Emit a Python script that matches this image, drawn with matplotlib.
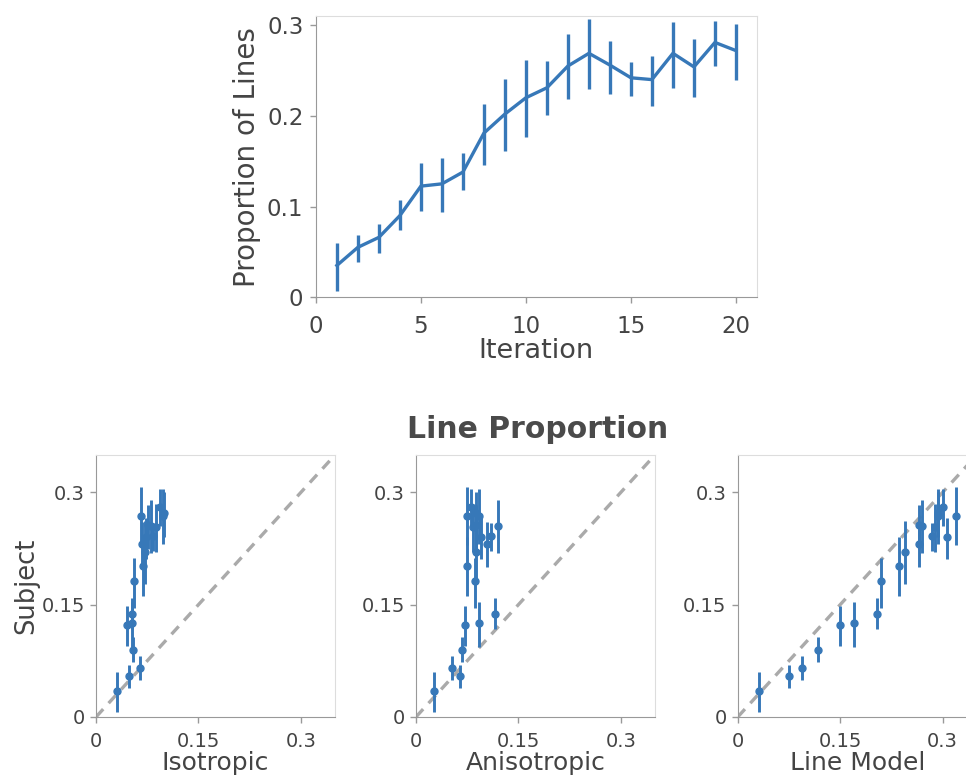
import matplotlib
matplotlib.use("Agg")
import matplotlib.pyplot as plt

# Data
iterations = list(range(1, 21))
subject_mean = [0.035, 0.055, 0.066, 0.090, 0.1225, 0.125, 0.138, 0.181, 0.202, 0.220,
                0.231, 0.255, 0.269, 0.256, 0.242, 0.240, 0.269, 0.254, 0.281, 0.272]
subject_hi = [0.060, 0.069, 0.081, 0.107, 0.148, 0.154, 0.159, 0.213, 0.241, 0.262,
              0.260, 0.290, 0.307, 0.283, 0.259, 0.266, 0.304, 0.285, 0.305, 0.301]
subject_lo = [0.007, 0.039, 0.049, 0.074, 0.095, 0.094, 0.118, 0.146, 0.161, 0.177,
              0.201, 0.219, 0.230, 0.224, 0.222, 0.211, 0.231, 0.221, 0.255, 0.240]

isotropic = [0.030, 0.049, 0.064, 0.054, 0.046, 0.053, 0.052, 0.056, 0.069, 0.072,
             0.067, 0.081, 0.066, 0.076, 0.083, 0.073, 0.098, 0.088, 0.094, 0.100]
anisotropic = [0.027, 0.065, 0.053, 0.068, 0.072, 0.093, 0.116, 0.086, 0.075, 0.088,
               0.104, 0.120, 0.075, 0.0875, 0.110, 0.095, 0.093, 0.083, 0.080, 0.0875]
line_model = [0.031, 0.0745, 0.094, 0.1175, 0.1495, 0.171, 0.204, 0.2095, 0.2355, 0.245,
              0.265, 0.2695, 0.319, 0.266, 0.284, 0.307, 0.293, 0.289, 0.300, 0.294]

model_names = ["Isotropic", "Anisotropic", "Line Model"]
model_values = [isotropic, anisotropic, line_model]

BLUE = "#3778b8"
TEXT = "#444444"

plt.rcParams["font.family"] = ["DejaVu Sans"]
plt.rcParams["text.color"] = TEXT
plt.rcParams["axes.labelcolor"] = TEXT
plt.rcParams["xtick.color"] = "#999999"
plt.rcParams["ytick.color"] = "#999999"
plt.rcParams["xtick.labelcolor"] = TEXT
plt.rcParams["ytick.labelcolor"] = TEXT

err_lo = [m - l for m, l in zip(subject_mean, subject_lo)]
err_hi = [h - m for m, h in zip(subject_mean, subject_hi)]


def style_axes(ax, labelsize, pad):
    ax.spines["left"].set_color("#999999")
    ax.spines["bottom"].set_color("#999999")
    ax.spines["top"].set_color("#dddddd")
    ax.spines["right"].set_color("#dddddd")
    ax.tick_params(direction="out", length=4, width=1, labelsize=labelsize, pad=pad)


fig = plt.figure(figsize=(9.66, 7.8), dpi=100)

# Top: proportion of lines over iterations
ax = fig.add_axes([0.327, 0.619, 0.4566, 0.3603])
ax.errorbar(iterations, subject_mean, yerr=[err_lo, err_hi], color=BLUE,
            lw=2.4, elinewidth=2.4, capsize=0)
ax.set_xlim(0, 21)
ax.set_ylim(0, 0.31)
ax.set_xticks([0, 5, 10, 15, 20])
ax.set_yticks([0, 0.1, 0.2, 0.3])
ax.set_yticklabels(["0", "0.1", "0.2", "0.3"])
style_axes(ax, 16.5, 5)
ax.tick_params(axis="x", pad=9)
ax.set_xlabel("Iteration", fontsize=19.5, labelpad=0)
ax.set_ylabel("Proportion of Lines", fontsize=20, labelpad=4)

# Bottom: subject vs model
lefts = [0.0994, 0.4306, 0.7637]
for i, (name, vals) in enumerate(zip(model_names, model_values)):
    ax = fig.add_axes([lefts[i], 0.0808, 0.2474, 0.3359])
    ax.plot([0, 0.35], [0, 0.35], ls=(0, (3.2, 2.4)), color="#aaaaaa", lw=2.4, zorder=1)
    ax.errorbar(vals, subject_mean, yerr=[err_lo, err_hi], fmt="o", color=BLUE,
                ms=5, elinewidth=2.1, capsize=0, zorder=3)
    ax.set_xlim(0, 0.35)
    ax.set_ylim(0, 0.35)
    ax.set_xticks([0, 0.15, 0.3])
    ax.set_yticks([0, 0.15, 0.3])
    ax.set_xticklabels(["0", "0.15", "0.3"])
    ax.set_yticklabels(["0", "0.15", "0.3"])
    style_axes(ax, 14, 4)
    ax.tick_params(axis="x", pad=7)
    ax.set_xlabel(name, fontsize=18, labelpad=0)
    if i == 0:
        ax.set_ylabel("Subject", fontsize=18.5, labelpad=2)

fig.text(0.557, 0.449, "Line Proportion", ha="center", va="center",
         fontsize=21.5, fontweight="bold", color="#4a4a4a")

fig.savefig("out.png", dpi=100)
